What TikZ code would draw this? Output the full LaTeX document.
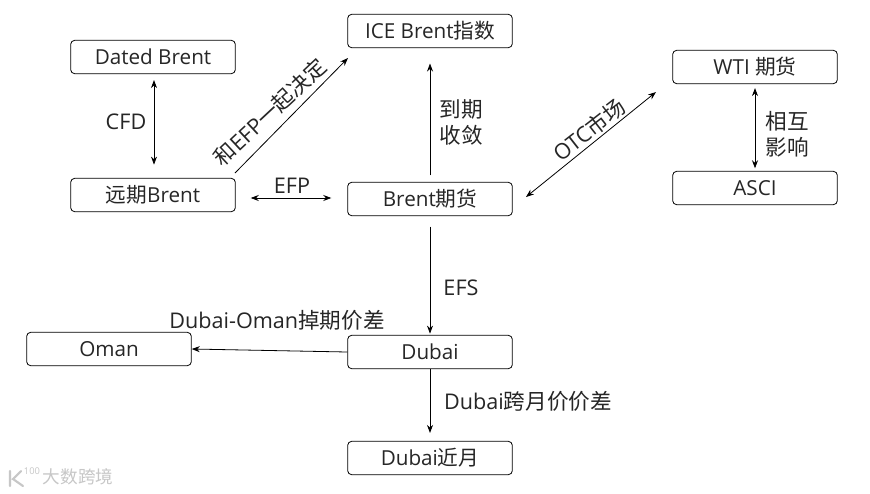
\documentclass[tikz,border=0pt]{standalone}
\usepackage{fontspec}
\setmainfont{Open Sans}
\newfontfamily\cjk{Noto Sans CJK SC}
\usetikzlibrary{arrows.meta}
\tikzset{x=0.75pt,y=-0.75pt,
  box/.style={draw=black,rounded corners=3pt,line width=0.6pt,minimum width=123.5pt,minimum height=25pt,inner sep=0pt,font=\fontsize{15.5}{15.5}\selectfont,text=black!85},
  lab/.style={font=\fontsize{16.2}{19.5}\selectfont,text=black!85,inner sep=0pt,align=center},
  conn/.style={line width=0.6pt,-{Stealth[length=6pt,width=4.5pt]}},
  both/.style={line width=0.6pt,{Stealth[length=6pt,width=4.5pt]}-{Stealth[length=6pt,width=4.5pt]}},
  wmark/.style={font=\fontsize{13.2}{13.2}\selectfont,text=black!22,inner sep=0pt},
  wlogo/.style={draw=black!22,line width=1.6pt,line cap=round}}
\begin{document}
\begin{tikzpicture}
\useasboundingbox (0,0) rectangle (870,493);
\fill[white] (0,0) rectangle (870,493);
\node[box] (dated) at (153,57) {Dated Brent};
\node[box] (far) at (153,195) {\cjk 远期\rmfamily Brent};
\node[box] (ice) at (430,31) {ICE Brent\cjk 指数};
\node[box] (fut) at (430,199) {Brent\cjk 期货};
\node[box] (wti) at (755,67) {WTI {\cjk 期货}};
\node[box] (asci) at (755,188) {ASCI};
\node[box] (dubai) at (430,352) {Dubai};
\node[box] (oman) at (109,349) {Oman};
\node[box] (near) at (430,458) {Dubai\cjk 近月};
\coordinate (ef) at (235,173);
\coordinate (ei) at (348,58);
\coordinate (of) at (526,197);
\coordinate (ow) at (656,92);
\draw[both] ([xshift=0.75pt,yshift=-4.5pt]dated.south) -- ([xshift=0.75pt,yshift=10pt]far.north);
\draw[both] ([xshift=11.25pt,yshift=-2.25pt]far.east) -- ([xshift=-12pt,yshift=0.75pt]fut.west);
\draw[conn] (ef) -- (ei);
\draw[conn] ([yshift=5pt]fut.north) -- ([yshift=-11.6pt]ice.south);
\draw[both] (of) -- (ow);
\draw[both] ([yshift=-3pt]wti.south) -- ([yshift=2pt]asci.north);
\draw[conn] ([yshift=-8pt]fut.south) -- ([yshift=1pt]dubai.north);
\draw[conn] (dubai.west) -- (oman.east);
\draw[conn] (dubai.south) -- ([yshift=6pt]near.north);
\node[lab] (l1) at (126,122) {CFD};
\node[lab] (l2) at (292,186) {EFP};
\node[lab,rotate=43] (l3) at (270,112) {\cjk 和\rmfamily EFP\cjk 一起决定};
\node[lab] (l4) at (461,122) {\cjk 到期\\\cjk 收敛};
\node[lab,rotate=38] (l5) at (589,130) {OTC\cjk 市场};
\node[lab] (l6) at (787,134) {\cjk 相互\\\cjk 影响};
\node[lab] (l7) at (461,288) {EFS};
\node[lab] (l8) at (277,320) {Dubai-Oman\cjk 掉期价差};
\node[lab] (l9) at (528,401) {Dubai\cjk 跨月价价差};
\node[wmark] (wm) at (78,477) {\cjk 大数跨境};
\draw[wlogo] (10,471) -- (10,486) (21,471) -- (13,479) -- (23,486);
\node[font=\fontsize{7}{7}\selectfont,text=black!22,inner sep=0pt] (wn) at (32,471) {100};
\end{tikzpicture}
\end{document}
